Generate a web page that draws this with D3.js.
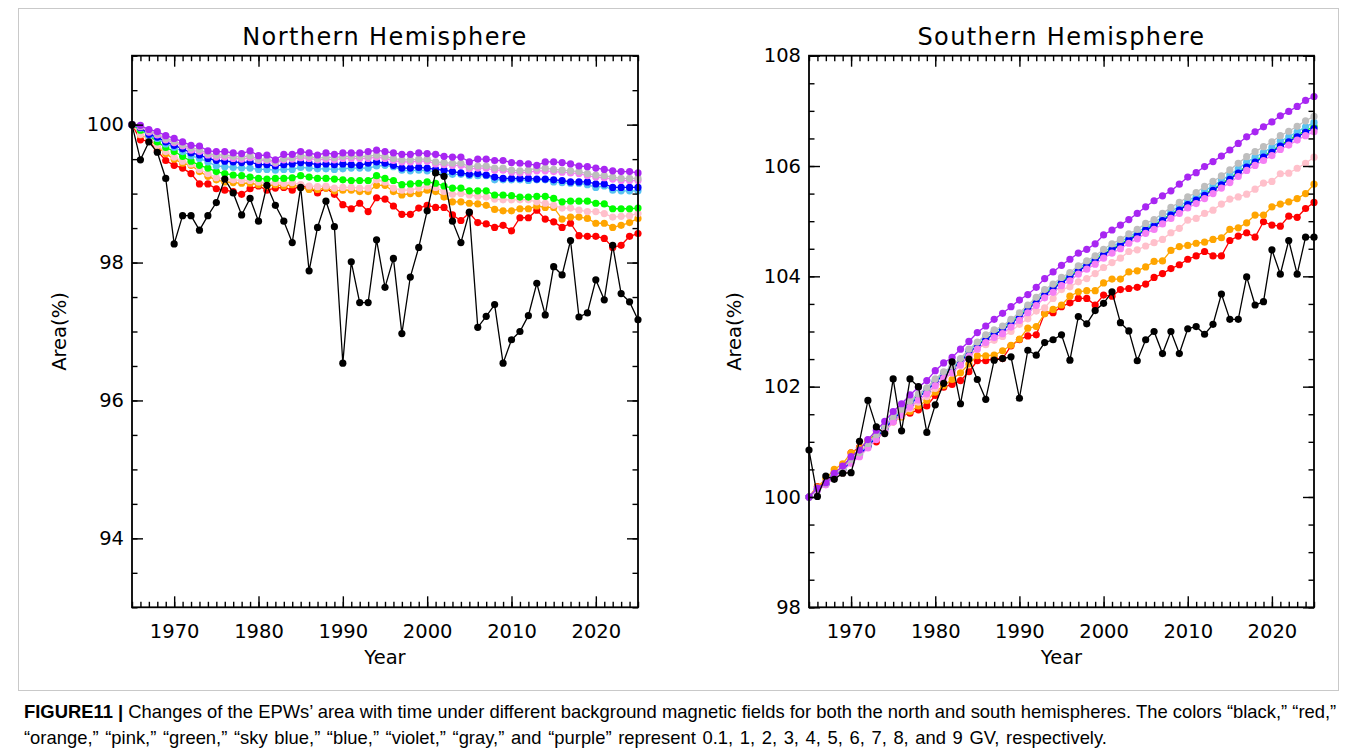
<!DOCTYPE html>
<html><head><meta charset="utf-8">
<script src="https://cdn.jsdelivr.net/npm/d3@7"></script>
<style>body{margin:0;background:#fff;} svg{display:block;}</style>
</head><body>
<svg id="c" width="1356" height="753"></svg>
<script>
// ---------------- DATA ----------------
const years = [1965,1966,1967,1968,1969,1970,1971,1972,1973,1974,1975,1976,1977,1978,1979,1980,1981,1982,1983,1984,1985,1986,1987,1988,1989,1990,1991,1992,1993,1994,1995,1996,1997,1998,1999,2000,2001,2002,2003,2004,2005,2006,2007,2008,2009,2010,2011,2012,2013,2014,2015,2016,2017,2018,2019,2020,2021,2022,2023,2024,2025];
const seriesNames = ["black","red","orange","pink","green","sky blue","blue","violet","gray","purple"];
const rigidityGV = [0.1,1,2,3,4,5,6,7,8,9];
const xTickLabels = [1970,1980,1990,2000,2010,2020];
const yTicksNorth = [94,96,98,100];
const yTicksSouth = [98,100,102,104,106,108];

// Northern Hemisphere
const nBlack = [100.00,99.49,99.75,99.60,99.22,98.27,98.68,98.68,98.47,98.68,
 98.87,99.21,99.01,98.69,98.93,98.60,99.12,98.83,98.60,98.29,
 99.09,97.88,98.51,98.89,98.52,96.54,98.01,97.42,97.42,98.33,
 97.64,98.06,96.97,97.79,98.22,98.75,99.30,99.25,98.60,98.29,
 98.73,97.06,97.22,97.39,96.54,96.88,97.00,97.23,97.70,97.24,
 97.94,97.82,98.32,97.21,97.27,97.75,97.46,98.25,97.55,97.43,97.17];
const nRed = [100.00,99.78,99.76,99.62,99.48,99.41,99.37,99.29,99.14,99.14,
 99.07,99.05,99.03,98.99,99.07,99.11,99.05,99.08,99.09,99.05,
 99.12,99.08,99.01,99.08,98.99,98.84,98.78,98.86,98.74,98.94,
 98.92,98.82,98.70,98.70,98.79,98.83,98.80,98.80,98.69,98.61,
 98.72,98.58,98.56,98.51,98.54,98.46,98.65,98.65,98.76,98.63,
 98.59,98.51,98.57,98.39,98.38,98.38,98.35,98.22,98.25,98.38,98.42];
const nOrange = [100.00,99.85,99.80,99.68,99.58,99.50,99.44,99.41,99.32,99.25,
 99.20,99.17,99.16,99.15,99.15,99.13,99.11,99.13,99.11,99.13,
 99.09,99.06,99.06,99.08,99.04,99.05,99.05,99.03,99.03,99.12,
 99.12,99.03,98.98,99.00,99.00,99.05,99.03,98.95,98.88,98.88,
 98.86,98.85,98.83,98.77,98.75,98.75,98.78,98.78,98.82,98.80,
 98.80,98.63,98.66,98.66,98.64,98.57,98.57,98.51,98.54,98.58,98.64];
const nPink = [100.00,99.86,99.81,99.70,99.61,99.53,99.47,99.43,99.35,99.29,
 99.23,99.21,99.20,99.19,99.19,99.17,99.15,99.16,99.15,99.16,
 99.13,99.11,99.10,99.11,99.08,99.09,99.09,99.08,99.08,99.20,
 99.17,99.08,99.05,99.05,99.08,99.11,99.09,99.03,98.99,99.00,
 98.98,98.96,98.95,98.92,98.91,98.91,98.91,98.91,98.88,98.86,
 98.83,98.79,98.79,98.76,98.74,98.74,98.71,98.66,98.67,98.68,98.71];
const nGreen = [100.00,99.92,99.85,99.75,99.67,99.61,99.54,99.47,99.41,99.37,
 99.32,99.29,99.27,99.26,99.24,99.22,99.21,99.22,99.22,99.23,
 99.26,99.24,99.22,99.22,99.21,99.20,99.19,99.19,99.19,99.26,
 99.22,99.19,99.13,99.14,99.15,99.17,99.15,99.11,99.08,99.08,
 99.04,99.04,99.04,98.98,98.98,98.97,98.95,98.95,98.96,98.96,
 98.93,98.88,98.89,98.89,98.89,98.86,98.85,98.78,98.78,98.78,98.79];
const nSkyBlue = [100.00,99.95,99.84,99.80,99.72,99.67,99.61,99.55,99.51,99.46,
 99.40,99.39,99.38,99.37,99.37,99.35,99.35,99.34,99.35,99.35,
 99.38,99.37,99.36,99.36,99.35,99.36,99.37,99.37,99.37,99.40,
 99.41,99.39,99.34,99.33,99.34,99.33,99.32,99.28,99.28,99.28,
 99.26,99.26,99.26,99.20,99.20,99.20,99.20,99.19,99.20,99.20,
 99.17,99.16,99.15,99.15,99.13,99.09,99.11,99.05,99.04,99.04,99.04];
const nBlue = [100.00,99.96,99.86,99.82,99.75,99.70,99.65,99.59,99.56,99.51,
 99.48,99.47,99.46,99.45,99.46,99.42,99.42,99.40,99.42,99.43,
 99.45,99.44,99.42,99.43,99.42,99.43,99.42,99.41,99.44,99.46,
 99.44,99.41,99.37,99.37,99.38,99.37,99.35,99.34,99.32,99.30,
 99.28,99.29,99.27,99.24,99.22,99.22,99.22,99.22,99.21,99.21,
 99.20,99.19,99.17,99.17,99.17,99.14,99.14,99.09,99.09,99.09,99.09];
const nViolet = [100.00,99.97,99.89,99.85,99.78,99.74,99.69,99.63,99.61,99.56,
 99.53,99.53,99.51,99.50,99.52,99.48,99.48,99.44,99.49,99.50,
 99.52,99.51,99.49,99.50,99.49,99.51,99.51,99.51,99.51,99.53,
 99.51,99.48,99.46,99.46,99.47,99.47,99.43,99.42,99.41,99.41,
 99.36,99.37,99.37,99.34,99.34,99.31,99.30,99.31,99.33,99.33,
 99.32,99.31,99.30,99.29,99.26,99.24,99.23,99.21,99.19,99.19,99.19];
const nGray = [100.00,99.98,99.91,99.87,99.80,99.76,99.71,99.66,99.64,99.58,
 99.56,99.56,99.54,99.53,99.55,99.50,99.50,99.46,99.51,99.52,
 99.55,99.54,99.51,99.53,99.52,99.54,99.54,99.54,99.54,99.56,
 99.54,99.51,99.49,99.49,99.50,99.50,99.46,99.45,99.44,99.44,
 99.39,99.40,99.40,99.37,99.37,99.34,99.33,99.34,99.37,99.37,
 99.35,99.34,99.33,99.32,99.29,99.27,99.26,99.24,99.22,99.22,99.22];
const nPurple = [100.00,99.99,99.93,99.90,99.84,99.80,99.75,99.70,99.69,99.62,
 99.61,99.61,99.59,99.58,99.62,99.55,99.56,99.49,99.57,99.57,
 99.61,99.59,99.56,99.59,99.57,99.59,99.59,99.59,99.61,99.63,
 99.61,99.59,99.57,99.57,99.59,99.58,99.57,99.54,99.53,99.53,
 99.46,99.50,99.50,99.48,99.48,99.45,99.44,99.43,99.41,99.46,
 99.46,99.45,99.43,99.40,99.39,99.37,99.35,99.33,99.32,99.32,99.30];

// Southern Hemisphere
const sBlack = [100.85,100.01,100.38,100.32,100.43,100.44,101.01,101.75,101.27,101.15,
 102.14,101.20,102.14,102.00,101.17,101.67,102.06,102.45,101.69,102.50,
 102.13,101.77,102.48,102.51,102.54,101.79,102.66,102.57,102.80,102.85,
 102.94,102.48,103.27,103.14,103.38,103.51,103.72,103.16,103.01,102.47,
 102.85,103.00,102.60,103.00,102.60,103.05,103.09,102.95,103.13,103.68,
 103.22,103.22,103.99,103.48,103.54,104.48,104.04,104.65,104.04,104.71,104.71];
const sRed = [100.00,100.19,100.25,100.44,100.44,100.80,100.90,100.98,101.00,101.25,
 101.38,101.47,101.52,101.58,101.65,101.84,101.99,102.04,102.11,102.27,
 102.47,102.47,102.51,102.51,102.74,102.85,102.92,102.94,103.33,103.34,
 103.45,103.52,103.60,103.60,103.48,103.66,103.64,103.76,103.78,103.80,
 103.86,103.98,104.05,104.14,104.21,104.31,104.37,104.45,104.37,104.37,
 104.65,104.73,104.79,104.71,104.99,104.93,104.91,105.09,105.07,105.23,105.34];
const sOrange = [100.00,100.18,100.33,100.50,100.60,100.80,100.88,101.03,101.15,101.27,
 101.36,101.45,101.55,101.65,101.75,101.90,102.02,102.13,102.25,102.41,
 102.56,102.56,102.57,102.65,102.75,102.86,103.06,103.09,103.32,103.40,
 103.48,103.64,103.72,103.74,103.74,103.88,103.95,103.95,104.08,104.10,
 104.17,104.27,104.28,104.47,104.54,104.56,104.60,104.62,104.67,104.70,
 104.85,104.88,104.97,105.11,105.11,105.26,105.31,105.35,105.41,105.50,105.67];
const sPink = [100.00,100.15,100.25,100.38,100.50,100.64,100.76,100.90,101.05,101.19,
 101.36,101.47,101.60,101.72,101.82,101.97,102.10,102.25,102.43,102.57,
 102.70,102.76,102.84,102.91,103.00,103.13,103.23,103.37,103.43,103.60,
 103.76,103.81,103.90,103.96,104.05,104.16,104.25,104.33,104.45,104.48,
 104.55,104.61,104.67,104.79,104.87,105.02,105.05,105.14,105.20,105.31,
 105.40,105.44,105.49,105.58,105.69,105.72,105.86,105.87,105.96,106.05,106.16];
const sGreen = [100.00,100.14,100.24,100.38,100.50,100.65,100.77,100.93,101.09,101.24,
 101.42,101.55,101.69,101.82,101.93,102.09,102.22,102.32,102.46,102.62,
 102.75,102.87,102.96,103.03,103.16,103.28,103.42,103.55,103.69,103.79,
 103.91,104.00,104.12,104.21,104.30,104.41,104.50,104.58,104.68,104.76,
 104.86,104.93,105.03,105.13,105.22,105.32,105.40,105.49,105.58,105.68,
 105.78,105.89,106.00,106.09,106.18,106.27,106.38,106.47,106.56,106.64,106.72];
const sSkyBlue = [100.00,100.14,100.24,100.39,100.51,100.66,100.78,100.95,101.11,101.26,
 101.44,101.57,101.72,101.85,101.96,102.12,102.25,102.35,102.49,102.66,
 102.79,102.91,103.00,103.07,103.19,103.31,103.45,103.58,103.72,103.82,
 103.94,104.03,104.15,104.24,104.33,104.44,104.54,104.62,104.72,104.80,
 104.90,104.97,105.08,105.18,105.27,105.37,105.45,105.55,105.64,105.74,
 105.84,105.95,106.07,106.16,106.25,106.34,106.45,106.53,106.62,106.71,106.79];
const sBlue = [100.00,100.13,100.23,100.37,100.49,100.64,100.76,100.92,101.08,101.23,
 101.41,101.54,101.68,101.81,101.92,102.08,102.21,102.31,102.45,102.61,
 102.74,102.86,102.95,103.02,103.14,103.26,103.40,103.53,103.67,103.77,
 103.89,103.98,104.10,104.19,104.28,104.39,104.48,104.56,104.66,104.74,
 104.84,104.91,105.01,105.11,105.20,105.30,105.38,105.47,105.56,105.66,
 105.76,105.87,105.98,106.07,106.16,106.25,106.36,106.44,106.53,106.61,106.68];
const sViolet = [100.00,100.12,100.22,100.35,100.47,100.61,100.73,100.89,101.04,101.19,
 101.36,101.49,101.63,101.76,101.87,102.02,102.15,102.25,102.39,102.55,
 102.68,102.80,102.89,102.96,103.08,103.20,103.34,103.47,103.61,103.71,
 103.83,103.92,104.04,104.13,104.22,104.33,104.42,104.50,104.60,104.68,
 104.78,104.85,104.95,105.05,105.14,105.24,105.32,105.41,105.50,105.60,
 105.70,105.81,105.92,106.01,106.10,106.19,106.30,106.38,106.47,106.55,106.62];
const sGray = [100.00,100.15,100.25,100.40,100.52,100.68,100.80,100.97,101.13,101.28,
 101.46,101.59,101.74,101.87,101.98,102.14,102.27,102.37,102.51,102.68,
 102.81,102.94,103.03,103.10,103.22,103.34,103.48,103.62,103.76,103.86,
 103.98,104.07,104.19,104.28,104.37,104.49,104.59,104.67,104.77,104.85,
 104.96,105.03,105.14,105.25,105.34,105.44,105.52,105.63,105.72,105.82,
 105.93,106.05,106.17,106.26,106.35,106.44,106.55,106.63,106.72,106.82,106.90];
const sPurple = [100.00,100.16,100.26,100.43,100.56,100.73,100.85,101.04,101.21,101.37,
 101.55,101.69,101.85,101.99,102.11,102.29,102.43,102.53,102.68,102.82,
 102.98,103.10,103.22,103.33,103.45,103.57,103.67,103.80,103.96,104.08,
 104.20,104.31,104.42,104.49,104.59,104.75,104.84,104.93,105.03,105.14,
 105.26,105.37,105.46,105.55,105.67,105.80,105.88,105.99,106.08,106.18,
 106.29,106.41,106.53,106.62,106.71,106.80,106.91,106.99,107.08,107.19,107.26];

const seriesColors = ["#000000","#ff0000","#ffa500","#ffc0cb","#00ff00","#58c2f0","#0000ff","#f47ff4","#bebebe","#a826f2"];

// ---------------- DRAWING ----------------
const svg = d3.select("#c");
const FONT = "'DejaVu Sans', sans-serif";

svg.append("rect").attr("x",18.5).attr("y",8.5).attr("width",1320).attr("height",682)
  .attr("fill","none").attr("stroke","#c9c9c9").attr("stroke-width",1);

function panel(cfg){
  const x = d3.scaleLinear().domain([1965,2025]).range([cfg.x0,cfg.x1]);
  const y = d3.scaleLinear().domain(cfg.yDomain).range([cfg.y1,cfg.y0]);
  const g = svg.append("g");

  const order = [1,2,3,4,5,6,7,8,9,0];
  const line = d3.line().x((d,i)=>x(years[i])).y(d=>y(d));
  order.forEach(k=>{
    const vals = cfg.series[k];
    const sg = g.append("g");
    sg.append("path").attr("d",line(vals)).attr("fill","none")
      .attr("stroke",seriesColors[k]).attr("stroke-width",1.3);
    sg.selectAll("circle").data(vals).join("circle")
      .attr("cx",(d,i)=>x(years[i])).attr("cy",d=>y(d)).attr("r",3.6)
      .attr("fill",seriesColors[k]);
  });

  const minorX = years;
  const minorY = d3.range(cfg.yDomain[0], cfg.yDomain[1]+0.001, 0.5);

  function styleAxis(a){
    a.select(".domain").remove();
    a.selectAll(".tick line").attr("stroke","#000").attr("stroke-width",1.4);
    a.selectAll(".tick text").attr("fill","#000").style("font-family",FONT).style("font-size","19.5px");
  }
  styleAxis(svg.append("g").attr("transform",`translate(0,${cfg.y1})`)
    .call(d3.axisBottom(x).tickValues(minorX).tickSize(-5.5).tickFormat("")));
  styleAxis(svg.append("g").attr("transform",`translate(0,${cfg.y1})`)
    .call(d3.axisBottom(x).tickValues(xTickLabels).tickSize(-11).tickPadding(17).tickFormat(d3.format("d"))));
  styleAxis(svg.append("g").attr("transform",`translate(0,${cfg.y0})`)
    .call(d3.axisTop(x).tickValues(minorX).tickSize(-5.5).tickFormat("")));
  styleAxis(svg.append("g").attr("transform",`translate(0,${cfg.y0})`)
    .call(d3.axisTop(x).tickValues(xTickLabels).tickSize(-11).tickFormat("")));
  styleAxis(svg.append("g").attr("transform",`translate(${cfg.x0},0)`)
    .call(d3.axisLeft(y).tickValues(minorY).tickSize(-5.5).tickFormat("")));
  styleAxis(svg.append("g").attr("transform",`translate(${cfg.x0},0)`)
    .call(d3.axisLeft(y).tickValues(cfg.yTicks).tickSize(-11).tickPadding(8).tickFormat(d3.format("d"))));
  styleAxis(svg.append("g").attr("transform",`translate(${cfg.x1},0)`)
    .call(d3.axisRight(y).tickValues(minorY).tickSize(-5.5).tickFormat("")));
  styleAxis(svg.append("g").attr("transform",`translate(${cfg.x1},0)`)
    .call(d3.axisRight(y).tickValues(cfg.yTicks).tickSize(-11).tickFormat("")));

  svg.append("rect").attr("x",cfg.x0).attr("y",cfg.y0)
    .attr("width",cfg.x1-cfg.x0).attr("height",cfg.y1-cfg.y0)
    .attr("fill","none").attr("stroke","#000").attr("stroke-width",1.8);

  const cx = (cfg.x0+cfg.x1)/2;
  svg.append("text").attr("x",cx).attr("y",45).attr("text-anchor","middle")
    .style("font-family",FONT).style("font-size","24px").style("letter-spacing","1.4px")
    .text(cfg.title);
  svg.append("text").attr("x",cx).attr("y",664).attr("text-anchor","middle")
    .style("font-family",FONT).style("font-size","19.5px").text("Year");
  svg.append("text").attr("transform",`translate(${cfg.ylabX},${(cfg.y0+cfg.y1)/2}) rotate(-90)`)
    .attr("text-anchor","middle").style("font-family",FONT).style("font-size","19.5px").text("Area(%)");
}

panel({title:"Northern Hemisphere", x0:132, x1:638, y0:55.7, y1:607.3, yDomain:[93,101],
  yTicks:yTicksNorth, ylabX:66,
  series:[nBlack,nRed,nOrange,nPink,nGreen,nSkyBlue,nBlue,nViolet,nGray,nPurple]});
panel({title:"Southern Hemisphere", x0:809, x1:1314, y0:55.7, y1:607.3, yDomain:[98,108],
  yTicks:yTicksSouth, ylabX:741,
  series:[sBlack,sRed,sOrange,sPink,sGreen,sSkyBlue,sBlue,sViolet,sGray,sPurple]});

// caption
const CF = "'Liberation Sans', Arial, sans-serif";
const cap1 = svg.append("text").attr("x",24).attr("y",718).style("font-family",CF).style("font-size","18.4px");
cap1.append("tspan").style("font-weight","bold").text("FIGURE11 |");
cap1.append("tspan").text(" Changes of the EPWs\u2019 area with time under different background magnetic fields for both the north and south hemispheres. The colors \u201cblack,\u201d \u201cred,\u201d");
svg.append("text").attr("x",24).attr("y",744).style("font-family",CF).style("font-size","18.4px")
  .style("word-spacing","1.5px")
  .text("\u201corange,\u201d \u201cpink,\u201d \u201cgreen,\u201d \u201csky blue,\u201d \u201cblue,\u201d \u201cviolet,\u201d \u201cgray,\u201d and \u201cpurple\u201d represent 0.1, 1, 2, 3, 4, 5, 6, 7, 8, and 9 GV, respectively.");
</script>
</body></html>
